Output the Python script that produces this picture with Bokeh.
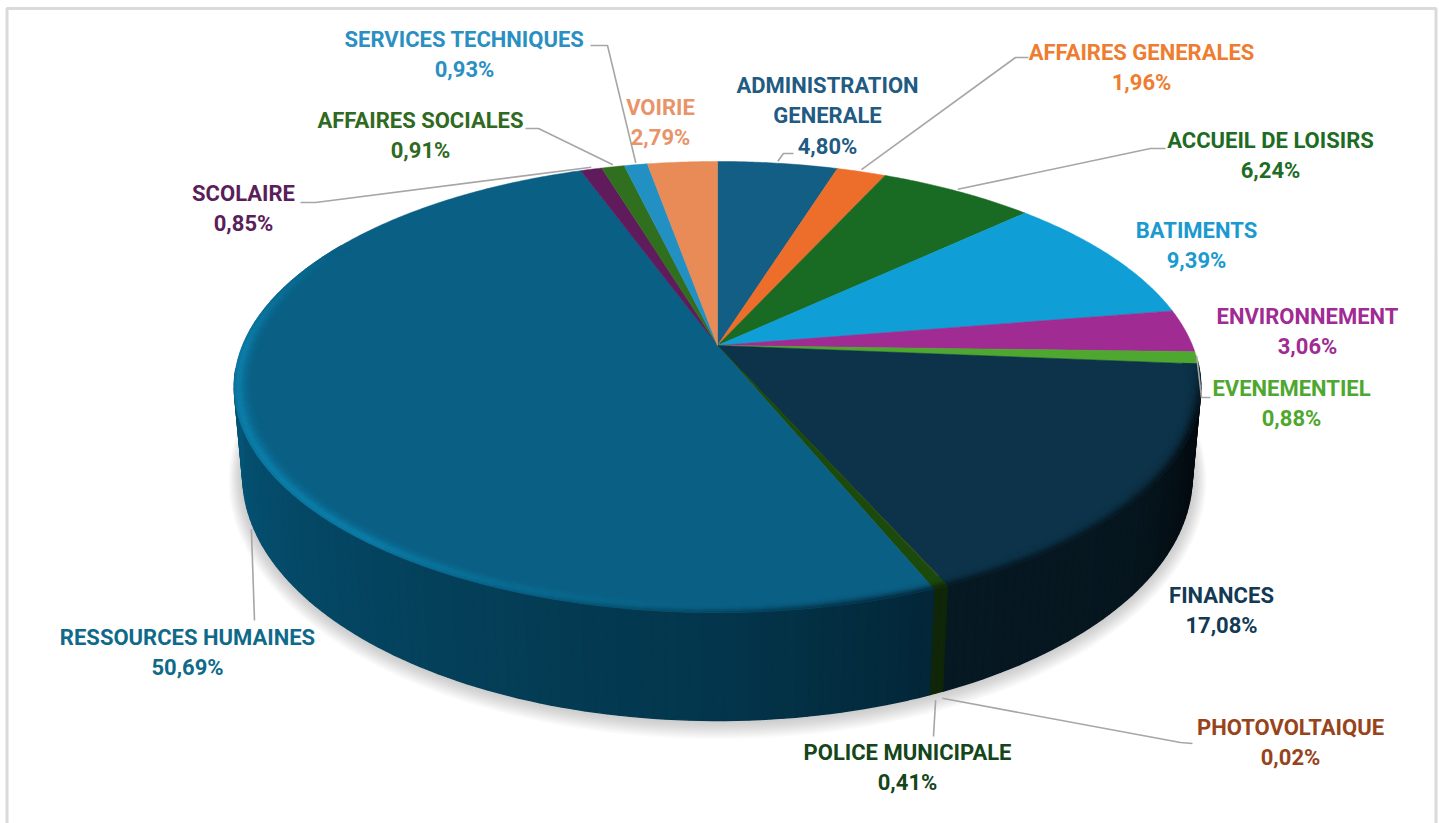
import numpy as np
from bokeh.core.properties import value
from bokeh.embed import file_html
from bokeh.models import ColumnDataSource, Range1d
from bokeh.plotting import figure
from bokeh.resources import INLINE

# Budget shares by department, clockwise from twelve o'clock
names = ["ADMINISTRATION\nGENERALE", "AFFAIRES GENERALES", "ACCUEIL DE LOISIRS", "BATIMENTS",
         "ENVIRONNEMENT", "EVENEMENTIEL", "FINANCES", "PHOTOVOLTAIQUE", "POLICE MUNICIPALE",
         "RESSOURCES HUMAINES", "SCOLAIRE", "AFFAIRES SOCIALES", "SERVICES TECHNIQUES", "VOIRIE"]
shares = [4.80, 1.96, 6.24, 9.39, 3.06, 0.88, 17.08, 0.02, 0.41, 50.69, 0.85, 0.91, 0.93, 2.79]
face_colors = ["#135E85", "#ED6E2B", "#196B24", "#0F9ED5", "#A02B93", "#4EA72E", "#0C3349", "#A6471A",
               "#1C4A0C", "#0A5F84", "#5F1B5C", "#306F1E", "#2390C4", "#E88B57"]
text_colors = ["#1F5B82", "#ED7D31", "#1E6B24", "#1B9AD0", "#A02B93", "#4EA72E", "#123A54", "#97431B",
               "#14461A", "#0F6A8A", "#5A1E5A", "#2F6A1E", "#2B8FC2", "#E89468"]
# Where each label block sits on the page (centre x, first line y)
label_x = [827, 1141, 1270, 1196, 1307, 1291, 1221, 1290, 907, 187, 243, 420, 464, 660]
label_y = [85, 52, 140, 230, 316, 388, 595, 727, 752, 637, 193, 120, 39, 107]
# Callouts: slice index, rim it leaves from, then the elbow and the end next to the label
callouts = [(0, "top", (783, 153), (793, 153)),
            (1, "top", (1015, 57), (1028, 57)),
            (2, "top", (1150, 148), (1165, 148)),
            (5, "top", (1201, 397), (1210, 397)),
            (7, "bottom", (1180, 742), (1192, 743)),
            (8, "bottom", (933, 736), (933, 736)),
            (9, "bottom", (254, 620), (254, 620)),
            (10, "top", (315, 202), (300, 202)),
            (11, "top", (538, 128), (525, 128)),
            (12, "top", (607, 45), (590, 45))]

# Perspective disc: the upper face and the lower edge of the drum
TOP = dict(cx=717.0, cy=345.0, a=475.0, b=217.9, k=0.184)
BOTTOM = dict(cx=717.0, cy=431.0, a=467.0, b=237.0, k=0.18)


def project(disc, theta, r=1.0):
    t = np.radians(theta)
    w = 1 + disc["k"] * r * np.cos(t)
    return disc["cx"] + disc["a"] * r * np.sin(t) / w, disc["cy"] - disc["b"] * r * np.cos(t) / w


def rgb(h):
    return np.array([int(h[i:i + 2], 16) for i in (1, 3, 5)], dtype=float)


def css(c):
    return "#%02x%02x%02x" % tuple(int(round(v)) for v in np.clip(c, 0, 255))


def mix(a, b, t):
    return a + (b - a) * t


def ramp(theta, stops):
    xs = [s[0] for s in stops]
    return np.array([np.interp(theta, xs, [s[1][i] for s in stops]) for i in range(3)])


# Drum shading by angle for the two large slices
FIN_WALL = [(90, (3, 6, 10)), (112, (4, 12, 18)), (130, (6, 22, 31)), (157, (6, 24, 34))]
RH_WALL = [(158, (3, 38, 56)), (180, (3, 54, 76)), (210, (4, 64, 90)), (250, (5, 80, 113)), (270, (5, 86, 120))]


def wall_color(i, theta):
    if i == 6:
        return ramp(theta, FIN_WALL)
    if i == 9:
        return ramp(theta, RH_WALL)
    if i in (7, 8):
        return np.array([15, 38, 8.0])
    return rgb(face_colors[i]) * 0.45


total = sum(shares)
edges = np.concatenate([[0], np.cumsum(shares)]) * 360.0 / total

p = figure(width=1439, height=823, output_backend="svg", toolbar_location=None,
           x_range=Range1d(0, 1439), y_range=Range1d(823, 0), min_border=0,
           background_fill_color="white", border_fill_color="white", outline_line_color=None)
p.axis.visible = False
p.grid.visible = False

# Card border
p.line([6.5, 6.5, 1435.5, 1435.5], [823, 8, 8, 823], line_color="#DADADA", line_width=3)

# Soft cast shadow from stacked translucent outlines
th = np.linspace(0, 360, 241)
for d in range(1, 15):
    sx, sy = project(BOTTOM, th)
    sx = BOTTOM["cx"] + (sx - BOTTOM["cx"]) * (1 + d / 470.0)
    sy = 475 + (sy - 475) * (1 + d / 250.0) + d * 0.35
    p.patch(sx, sy, fill_color="#7F7F7F", fill_alpha=0.028, line_color=None)

# Drum wall as narrow strips, each shaded for its own angle
wx, wy, wc = [], [], []
for i in range(len(shares)):
    lo, hi = max(edges[i], 94.0), min(edges[i + 1], 264.0)
    if hi <= lo:
        continue
    steps = np.linspace(lo, hi, max(2, int((hi - lo) / 1.2) + 2))
    for t0, t1 in zip(steps[:-1], steps[1:]):
        x0, y0 = project(TOP, t0)
        x1, y1 = project(TOP, t1)
        x2, y2 = project(BOTTOM, t1)
        x3, y3 = project(BOTTOM, t0)
        wx.append([x0, x1, x2, x3])
        wy.append([y0, y1, y2, y3])
        wc.append(css(wall_color(i, (t0 + t1) / 2)))
p.patches("x", "y", source=ColumnDataSource(dict(x=wx, y=wy, c=wc)),
          fill_color="c", line_color="c", line_width=1.4)

# Flat upper face of every slice
fx, fy, fc, fl = [], [], [], []
for i in range(len(shares)):
    arc = np.linspace(edges[i], edges[i + 1], max(2, int((edges[i + 1] - edges[i]) / 0.5) + 2))
    ax, ay = project(TOP, arc)
    fx.append([TOP["cx"]] + list(ax))
    fy.append([TOP["cy"]] + list(ay))
    fc.append(face_colors[i])
    fl.append(face_colors[8] if i == 7 else face_colors[i])
p.patches("x", "y", source=ColumnDataSource(dict(x=fx, y=fy, c=fc, l=fl)),
          fill_color="c", line_color="l", line_width=0.5)

# Rounded bevel along the front of the rim
radii = [0.968, 0.975, 0.981, 0.986, 0.991, 0.996, 1.0]
bump = [0.15, 0.38, 0.65, 0.9, 1.0, 0.8]
wall_mix = [0.0, 0.05, 0.15, 0.35, 0.6, 0.85]
HIGHLIGHT = rgb("#0B7DA8")
bx, by, bc = [], [], []
for i in (6, 8, 9):
    lo, hi = max(edges[i], 92.0), min(edges[i + 1], 300.0)
    steps = np.linspace(lo, hi, max(2, int((hi - lo) / 2.0) + 2))
    for t0, t1 in zip(steps[:-1], steps[1:]):
        tm = (t0 + t1) / 2
        fade = np.clip((tm - 92) / 16, 0, 1) * np.clip((300 - tm) / 30, 0, 1)
        glow = np.clip((tm - 165) / 55, 0, 1) * fade if i == 9 else 0.0
        dim = fade * np.clip((264 - tm) / 24, 0, 1) * (1 - glow)
        for row in range(6):
            r0, r1 = radii[row], radii[row + 1]
            x0, y0 = project(TOP, t0, r0)
            x1, y1 = project(TOP, t1, r0)
            x2, y2 = project(TOP, t1, r1)
            x3, y3 = project(TOP, t0, r1)
            c = mix(rgb(face_colors[i]), HIGHLIGHT, glow * bump[row])
            c = mix(c, wall_color(i, min(tm, 264.0)), wall_mix[row] * dim)
            bx.append([x0, x1, x2, x3])
            by.append([y0, y1, y2, y3])
            bc.append(css(c))
p.patches("x", "y", source=ColumnDataSource(dict(x=bx, y=by, c=bc)),
          fill_color="c", line_color="c", line_width=0.6)

# Leader lines start on the rim at the middle of their slice
for i, rim, elbow, end in callouts:
    mid = (edges[i] + edges[i + 1]) / 2
    sx, sy = project(TOP if rim == "top" else BOTTOM, mid)
    sy += -2 if rim == "top" else 7
    p.line([sx, elbow[0], end[0]], [sy, elbow[1], end[1]], line_color="#A6A6A6", line_width=1.6)

# Label blocks: department name, then its share in French notation
tx, ty, tt, tc = [], [], [], []
for i, name in enumerate(names):
    rows = name.split("\n") + [f"{shares[i]:.2f}".replace(".", ",") + "%"]
    for n, row in enumerate(rows):
        tx.append(label_x[i])
        ty.append(label_y[i] + n * 30.3)
        tt.append(row)
        tc.append(text_colors[i])
p.text("x", "y", text="t", source=ColumnDataSource(dict(x=tx, y=ty, t=tt, c=tc)), text_color="c",
       text_font=value("Roboto"), text_font_style="bold", text_font_size="22px",
       text_align="center", text_baseline="middle")

open("out.html", "w").write(file_html(p, INLINE))
